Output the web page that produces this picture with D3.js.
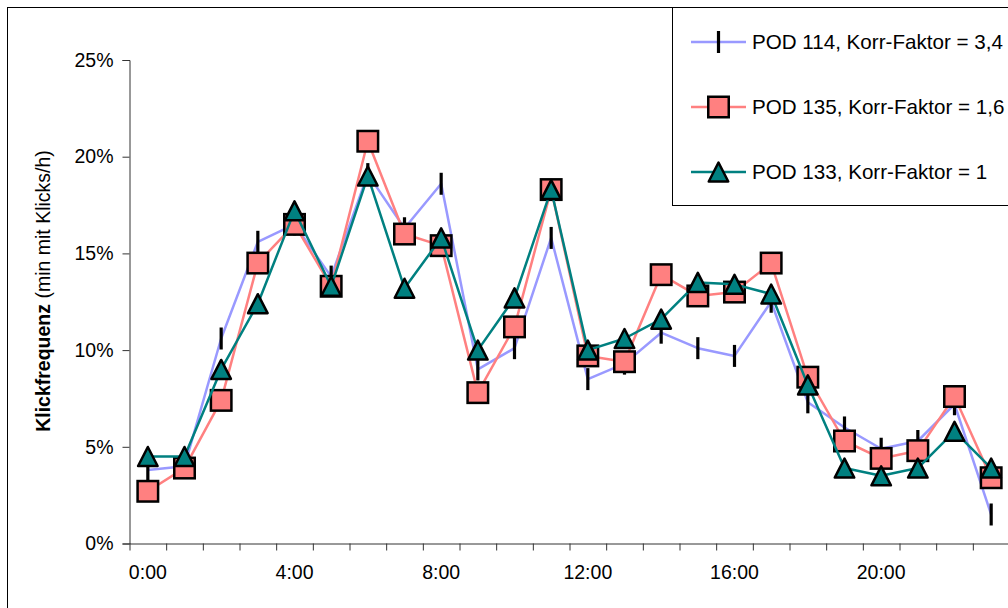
<!DOCTYPE html>
<html>
<head>
<meta charset="utf-8">
<script src="https://cdn.jsdelivr.net/npm/d3@7"></script>
<style>
  html, body { margin: 0; padding: 0; background: #fff; }
  svg { display: block; font-family: "Liberation Sans", Arial, sans-serif; }
</style>
</head>
<body>
<svg id="chart" width="1008" height="608"></svg>
<script>
// Hour of day (category axis)
const hours = d3.range(0, 24);
const hourLabels = ["0:00", "4:00", "8:00", "12:00", "16:00", "20:00"];
const labelHours = [0, 4, 8, 12, 16, 20];

// Click frequency per hour (share of minutes with clicks), in percent
const pod114 = [3.8, 4.0, 10.6, 15.6, 16.5, 13.8, 19.1, 16.3, 18.6, 9.0, 10.1, 15.8,
                8.5, 9.3, 10.9, 10.1, 9.7, 12.5, 7.3, 6.0, 4.9, 5.3, 7.2, 1.5];
const pod135 = [2.7, 3.9, 7.4, 14.5, 16.5, 13.3, 20.8, 16.0, 15.4, 7.8, 11.2, 18.3,
                9.7, 9.4, 13.9, 12.8, 13.0, 14.5, 8.6, 5.3, 4.4, 4.8, 7.6, 3.4];
const pod133 = [4.5, 4.5, 9.0, 12.4, 17.2, 13.3, 19.0, 13.2, 15.8, 10.0, 12.7, 18.3,
                10.0, 10.6, 11.6, 13.5, 13.4, 12.9, 8.2, 3.9, 3.5, 3.9, 5.8, 3.9];

const seriesNames = ["POD 114, Korr-Faktor = 3,4", "POD 135, Korr-Faktor = 1,6", "POD 133, Korr-Faktor = 1"];
const yTicks = [0, 5, 10, 15, 20, 25];

const svg = d3.select("#chart");

// outer chart frame
svg.append("rect")
  .attr("x", 7.5).attr("y", 7.5)
  .attr("width", 1100).attr("height", 700)
  .attr("fill", "#fff").attr("stroke", "#000").attr("stroke-width", 1);

const plotLeft = 129.5, plotRight = 1009.5, plotTop = 60, plotBottom = 543.5;

const xEdge = d3.scaleLinear().domain([0, 24]).range([plotLeft, plotRight]);
const x = d3.scaleBand().domain(hours).range([plotLeft, plotRight]).padding(0);
const xc = h => x(h) + x.bandwidth() / 2;
const y = d3.scaleLinear().domain([0, 25]).range([plotBottom, plotTop]);

// y axis
const yAxis = svg.append("g")
  .attr("transform", `translate(${plotLeft},0)`)
  .call(d3.axisLeft(y).tickValues(yTicks).tickFormat(d => d + "%").tickSize(7).tickPadding(9));
yAxis.selectAll("text").attr("font-size", 19.5).attr("fill", "#000")
  .attr("font-family", "Liberation Sans, Arial, sans-serif");
yAxis.selectAll("line, path").attr("stroke", "#333");

// x axis: tick marks on category boundaries
const xTickAxis = svg.append("g")
  .attr("transform", `translate(0,${plotBottom})`)
  .call(d3.axisBottom(xEdge).tickValues(d3.range(0, 25)).tickFormat("").tickSize(7).tickSizeOuter(0));
xTickAxis.selectAll("line, path").attr("stroke", "#333");

// x axis: labels centred in their category
const xLabelAxis = svg.append("g")
  .attr("transform", `translate(0,${plotBottom})`)
  .call(d3.axisBottom(x).tickValues(labelHours)
    .tickFormat(h => hourLabels[labelHours.indexOf(h)]).tickSize(0).tickPadding(22));
xLabelAxis.select(".domain").remove();
xLabelAxis.selectAll("text").attr("font-size", 19.5).attr("fill", "#000")
  .attr("font-family", "Liberation Sans, Arial, sans-serif");

// y axis title
const title = svg.append("text")
  .attr("transform", "translate(50,291) rotate(-90)")
  .attr("text-anchor", "middle")
  .attr("font-size", 19.5)
  .attr("fill", "#000");
title.append("tspan").attr("font-weight", "bold").text("Klickfrequenz");
title.append("tspan").text(" (min mit Klicks/h)");

// marker painters
const drawBar = (g, cx, cy) => g.append("line")
  .attr("x1", cx).attr("x2", cx).attr("y1", cy - 11).attr("y2", cy + 11)
  .attr("stroke", "#000").attr("stroke-width", 3.2);
const drawSquare = (g, cx, cy) => g.append("rect")
  .attr("x", cx - 10.25).attr("y", cy - 10.25).attr("width", 20.5).attr("height", 20.5)
  .attr("fill", "#FF8080").attr("stroke", "#000").attr("stroke-width", 2.5);
const drawTriangle = (g, cx, cy) => g.append("path")
  .attr("d", `M${cx},${cy - 9.5}L${cx + 9.75},${cy + 9.5}L${cx - 9.75},${cy + 9.5}Z`)
  .attr("fill", "#008080").attr("stroke", "#000").attr("stroke-width", 2.5)
  .attr("stroke-linejoin", "round");

const series = [
  { values: pod114, color: "#9999FF", marker: drawBar },
  { values: pod135, color: "#FF8080", marker: drawSquare },
  { values: pod133, color: "#008080", marker: drawTriangle }
];

const line = d3.line().x((d, i) => xc(hours[i])).y(d => y(d));

series.forEach(s => {
  const g = svg.append("g");
  g.append("path").datum(s.values)
    .attr("d", line)
    .attr("fill", "none").attr("stroke", s.color).attr("stroke-width", 2.5)
    .attr("stroke-linejoin", "round");
  s.values.forEach((v, i) => s.marker(g, xc(hours[i]), y(v)));
});

// legend
const legend = svg.append("g");
legend.append("rect")
  .attr("x", 672.5).attr("y", 7.5).attr("width", 400).attr("height", 198)
  .attr("fill", "#fff").attr("stroke", "#000").attr("stroke-width", 1);
const legendY = [42, 107, 172];
series.forEach((s, i) => {
  const ly = legendY[i];
  legend.append("line")
    .attr("x1", 691).attr("x2", 746).attr("y1", ly).attr("y2", ly)
    .attr("stroke", s.color).attr("stroke-width", 2.5);
  s.marker(legend, 718.5, ly);
  legend.append("text")
    .attr("x", 752).attr("y", ly + 7.4)
    .attr("font-size", 20.6).attr("fill", "#000")
    .text(seriesNames[i]);
});
</script>
</body>
</html>
